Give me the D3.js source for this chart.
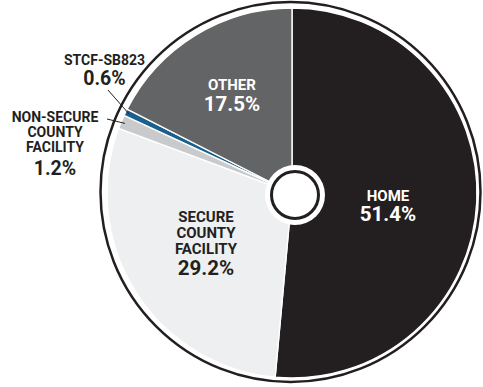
<!DOCTYPE html>
<html>
<head>
<meta charset="utf-8">
<script src="https://cdn.jsdelivr.net/npm/d3@7"></script>
<style>
  html, body { margin: 0; padding: 0; background: #fff; }
  svg { display: block; }
  text { font-family: Roboto, "Noto Sans", sans-serif; font-weight: 700; }
</style>
</head>
<body>
<svg id="chart" width="483" height="387"></svg>
<script>
// ---- data ----
const categories = ["HOME", "SECURE COUNTY FACILITY", "NON-SECURE COUNTY FACILITY", "STCF-SB823", "OTHER"];
const values = [51.4, 29.2, 1.2, 0.6, 17.5];
const valueLabels = ["51.4%", "29.2%", "1.2%", "0.6%", "17.5%"];
const labelLines = [["HOME"], ["SECURE", "COUNTY", "FACILITY"], ["NON-SECURE", "COUNTY", "FACILITY"], ["STCF-SB823"], ["OTHER"]];
const colors = ["#231f20", "#eeeff1", "#c9cacc", "#1b5f8c", "#636466"];
const textColors = ["#ffffff", "#231f20", "#231f20", "#231f20", "#ffffff"];

// ---- layout ----
const W = 483, H = 387;
const cx = 292, cy = 193, R = 185;
const svg = d3.select("#chart");

// label placement (text anchor x, first baseline y, line step, value baseline offset)
const labelPos = [
  { x: 388, y: 200.5, step: 16, vGap: 20.5, fs: 15, vfs: 20.5 },
  { x: 206, y: 221.7, step: 16.2, vGap: 20.5, fs: 15, vfs: 20.5 },
  { x: 55, y: 121.7, step: 15, vGap: 23.3, fs: 14, vfs: 19.5 },
  { x: 104.5, y: 65, step: 15, vGap: 20, fs: 14, vfs: 19.5 },
  { x: 232, y: 90, step: 16, vGap: 21, fs: 15, vfs: 20.5 }
];
// leader line start points (near the label), end computed from slice angle
const leaderStart = [null, null, [107, 119], [108, 90], null];

const pie = d3.pie().sort(null).value(d => d)(values);
const arc = d3.arc().innerRadius(0).outerRadius(R);

const g = svg.append("g").attr("transform", `translate(${cx},${cy})`);

// outer ring
g.append("circle")
  .attr("cx", -1.5).attr("cy", -1)
  .attr("r", R + 5)
  .attr("fill", "none")
  .attr("stroke", "#231f20")
  .attr("stroke-width", 2.5);

// slices
g.selectAll("path.slice")
  .data(pie)
  .join("path")
  .attr("class", "slice")
  .attr("d", arc)
  .attr("fill", (d, i) => colors[i])
  .attr("stroke", "#ffffff")
  .attr("stroke-width", 1.4)
  .attr("stroke-linejoin", "round");

// center hole
const hole = g.append("g").attr("transform", "translate(3,2)");
hole.append("circle").attr("r", 30).attr("fill", "#ffffff");
hole.append("circle").attr("r", 23.5).attr("fill", "#ffffff")
  .attr("stroke", "#231f20").attr("stroke-width", 3);

// leader lines
pie.forEach((d, i) => {
  if (!leaderStart[i]) return;
  const a = (d.startAngle + d.endAngle) / 2;
  const rr = R - 4;
  const ex = cx + rr * Math.sin(a);
  const ey = cy - rr * Math.cos(a);
  svg.append("line")
    .attr("x1", leaderStart[i][0]).attr("y1", leaderStart[i][1])
    .attr("x2", ex).attr("y2", ey)
    .attr("stroke", "#231f20")
    .attr("stroke-width", 1);
});

// labels
categories.forEach((c, i) => {
  const p = labelPos[i];
  const t = svg.append("text")
    .attr("text-anchor", "middle")
    .attr("fill", textColors[i]);
  labelLines[i].forEach((ln, j) => {
    t.append("tspan")
      .attr("x", p.x)
      .attr("y", p.y + j * p.step)
      .attr("font-size", p.fs)
      .text(ln);
  });
  t.append("tspan")
    .attr("x", p.x)
    .attr("y", p.y + (labelLines[i].length - 1) * p.step + p.vGap)
    .attr("font-size", p.vfs)
    .text(valueLabels[i]);
});
</script>
</body>
</html>
